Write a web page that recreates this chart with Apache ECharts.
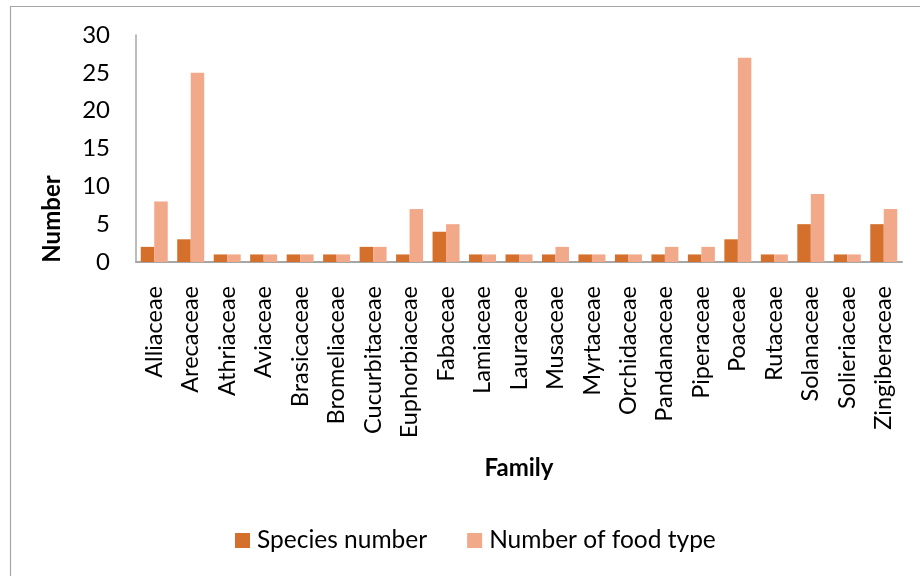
<!DOCTYPE html>
<html>
<head>
<meta charset="utf-8">
<script src="https://cdn.jsdelivr.net/npm/echarts@6/dist/echarts.min.js"></script>
<style>
  html, body { margin: 0; padding: 0; background: #fff; }
  #chart { width: 920px; height: 576px; }
</style>
</head>
<body>
<div id="chart"></div>
<script>
// Plant families and their counts
var families = [
  'Alliaceae', 'Arecaceae', 'Athriaceae', 'Aviaceae', 'Brasicaceae', 'Bromeliaceae',
  'Cucurbitaceae', 'Euphorbiaceae', 'Fabaceae', 'Lamiaceae', 'Lauraceae', 'Musaceae',
  'Myrtaceae', 'Orchidaceae', 'Pandanaceae', 'Piperaceae', 'Poaceae', 'Rutaceae',
  'Solanaceae', 'Solieriaceae', 'Zingiberaceae'
];
var speciesNumber = [2, 3, 1, 1, 1, 1, 2, 1, 4, 1, 1, 1, 1, 1, 1, 1, 3, 1, 5, 1, 5];
var foodTypes     = [8, 25, 1, 1, 1, 1, 2, 7, 5, 1, 1, 2, 1, 1, 2, 2, 27, 1, 9, 1, 7];

var FONT = 'Lato, "Open Sans", sans-serif';
var chart = echarts.init(document.getElementById('chart'));

chart.setOption({
  animation: false,
  backgroundColor: '#ffffff',
  textStyle: { fontFamily: FONT, color: '#000' },
  grid: { left: 136, right: 18, top: 35, bottom: 314, containLabel: false },
  graphic: [
    {
      type: 'rect',
      shape: { x: 10.5, y: 6.5, width: 1000, height: 1000 },
      style: { fill: 'none', stroke: '#a6a6a6', lineWidth: 1.2 },
      silent: true
    },
    {
      type: 'text',
      x: 52, y: 219,
      rotation: Math.PI / 2,
      style: {
        text: 'Number', fontFamily: FONT, fontSize: 24, fontWeight: 'bold',
        fill: '#000', align: 'center', verticalAlign: 'middle'
      }
    },
    {
      type: 'text',
      x: 519, y: 468,
      style: {
        text: 'Family', fontFamily: FONT, fontSize: 24, fontWeight: 'bold',
        fill: '#000', align: 'center', verticalAlign: 'middle'
      }
    }
  ],
  legend: {
    top: 523,
    left: 230,
    itemWidth: 15,
    itemHeight: 15,
    itemGap: 40,
    icon: 'rect',
    textStyle: { fontFamily: FONT, fontSize: 24.5, color: '#000', padding: [0, 0, 0, 2] },
    data: ['Species number', 'Number of food type']
  },
  xAxis: {
    type: 'category',
    data: families,
    axisLine: { lineStyle: { color: '#a6a6a6', width: 2 } },
    axisTick: { show: false },
    axisLabel: {
      rotate: 90,
      interval: 0,
      margin: 24,
      fontFamily: FONT,
      fontSize: 23.5,
      color: '#000'
    }
  },
  yAxis: {
    type: 'value',
    min: 0,
    max: 30,
    interval: 5,
    axisLine: { show: true, lineStyle: { color: '#a6a6a6', width: 1.5 } },
    axisTick: { show: false },
    splitLine: { show: false },
    axisLabel: { margin: 26, fontFamily: FONT, fontSize: 24, color: '#000' }
  },
  series: [
    {
      name: 'Species number',
      type: 'bar',
      data: speciesNumber,
      barGap: '0%',
      barCategoryGap: '26%',
      itemStyle: { color: '#d4702c' }
    },
    {
      name: 'Number of food type',
      type: 'bar',
      data: foodTypes,
      itemStyle: { color: '#f2a98a' }
    }
  ]
});
</script>
</body>
</html>
